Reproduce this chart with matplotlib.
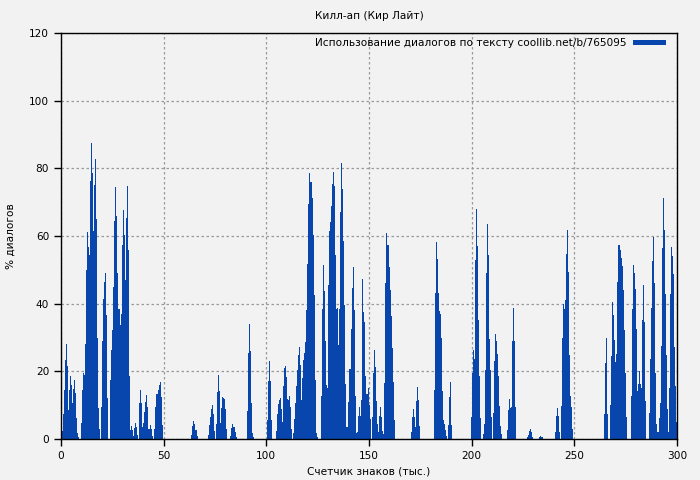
import matplotlib
matplotlib.use("Agg")
import matplotlib.pyplot as plt
from matplotlib.patches import Patch

# Data: clusters of bars (start of cluster in thousand chars, values at 0.5 step)
STEP = 0.5
seg_a = (0.5,  [2.4, 7.4, 14.5, 23.3, 28, 21.6, 8.6, 14.5, 18.6, 16, 10.6, 14.8, 17.4, 13.6, 6.2, 1.8, 0.6])
seg_b = (9.5,  [4.7, 14.5, 19.5, 18.9, 28, 50, 61.2, 56.7, 54.4, 76.3, 87.5, 78.6, 61.5, 75, 82.8, 65, 29.9, 9.2, 3])
seg_c = (19.5, [9.5, 29, 41.4, 46.4, 49, 36.7, 12.1])
seg_d = (24.0, [17.4, 26.3, 32.2, 44.9, 64.4, 74.5, 65.9, 49, 38.4, 33.7, 36.9, 57.3, 67.7, 60.3, 47, 65.3,
                74.8, 55.9, 18.6, 2.7, 3.8, 2.7, 0.9, 3.3, 4.7, 3.5, 1.2])
seg_e = (38.0, [10.6, 14.5, 10.6, 3.5, 4.7, 8, 10.9, 13, 9.5, 3, 3, 4.1, 3, 0.9])
seg_f = (45.5, [3, 9.5, 13.3, 14.5, 16, 16.8, 12.4, 4.1])
seg_g = (63.5, [1.1, 3.7, 5.2, 4.3, 2.6, 0.8])
seg_h = (71.5, [1.1, 4, 6.4, 8.8, 10, 7.3, 2.3])
seg_i = (75.5, [4.3, 13.8, 18.8, 14.1, 4.6, 9.1, 12.3, 12, 11.7, 8.8, 2.9])
seg_j = (82.5, [0.8, 3.2, 4.3, 3.4, 2, 0.5])
seg_k = (90.5, [8.2, 25.3, 33.9, 25.9, 10.5, 1.7, 0.5])
seg_l = (100.5, [5.6, 17.1, 23, 17.1, 5.6])
seg_m = (104.5, [2.4, 7.4, 10.3, 11.5, 12.1, 8.9, 5, 15.7, 21, 21.6, 18.3, 11.8, 11.5, 12.7, 9.5, 3])
seg_n = (113.0, [1.8, 5.9, 10.6, 15.7, 20.4, 24.8, 27.2, 21.9, 11.5, 18, 23.3, 25.4, 28.7, 38.1, 51.7,
                 69.5, 78.6, 76, 71.2, 60.3, 42.6, 17.4, 1.8, 0.6])
seg_o = (126.5, [12.7, 38.4, 51.4, 43.7, 29, 16, 15.1, 45.5, 61.5, 64.1, 68.9, 75.4, 78.9, 74.8, 54.4,
                 38.4, 38.7, 27.8, 38.4, 67.1, 81.6, 73.9, 58.5, 39.6, 16.3, 3.5, 3.5, 10.9, 20.7, 32.5,
                 44.6, 50.8, 38.1, 12.7, 1.8, 2, 6.8, 9.5, 6.8, 11.5, 47.3, 37.5, 34.6, 18.6, 13.3, 13.3,
                 15.1, 10, 5.9])
seg_p = (151.5, [6.5, 19.5, 26.3, 21.3, 11.2, 4.4, 2, 6.8, 9.5, 6.5, 2.4, 1.5, 16.6, 46.1, 60.9, 57.3,
                 50.8, 44.1, 36.4, 26.9, 16.8, 5.6])
seg_q = (170.5, [2, 6.5, 8.9, 6.5, 3.5, 11.2, 15.4, 11.5, 3.8])
seg_r = (181.5, [14.5, 43.2, 58.2, 53.2, 43.2, 37.8, 36.9, 29.9, 14.2, 5.6, 4.4, 2.7, 0.9])
seg_s = (188.5, [4.1, 12.4, 16.8, 4.1])
seg_t = (199.5, [6.5, 19.5, 26.3, 23.6, 52.9, 67.9, 57.1, 35.3, 18.6, 6.2])
seg_u = (205.5, [1.5, 4.4, 20.4, 49.1, 63.5, 54.4, 29.6, 20.4, 6.5])
seg_v = (210.5, [7.7, 23, 31, 28.9, 25.1, 18.6, 9.7, 3.8, 1.5])
seg_w = (217.0, [2.6, 8.5, 11.7, 9.1, 9.4, 28.9, 38.6, 28.9, 9.4])
seg_x = (227.0, [0.5, 1.1, 2.3, 2.9, 2, 0.5])
seg_y = (233.0, [0.5, 0.8, 0.5])
seg_z = (240.5, [2, 6.7, 9.1, 6.7, 2])
seg_aa = (243.5, [9.7, 29.8, 39.8, 38.3, 41, 54.6, 61.7, 49.3, 24.7, 12.6, 9.4, 2.9])
seg_ab = (264.5, [7.3, 22.4, 30, 7.3])
seg_ac = (267.5, [10, 24.4, 40.4, 36.6, 29.2, 22.7, 25, 46.3, 57.2, 55.8, 53.4, 51, 43.9, 32.1, 19.4, 6.4])
seg_ad = (277.5, [12.6, 38.3, 51.3, 49, 44.2, 32.4, 14.1, 16.2, 20, 16.2, 15, 35.1, 45.4, 34.5, 11.1])
seg_ae = (286.5, [7.6, 23.5, 38.6, 52.5, 59.6, 46, 19.4, 4.3, 2, 6.1, 10.5, 27.4, 56.4, 71.1, 61.7, 42.8,
                  24.7, 8.8, 2, 15, 42.8, 56.7, 54, 48.7, 27.1, 15.6, 4.9])

segments = [seg_a, seg_b, seg_c, seg_d, seg_e, seg_f, seg_g, seg_h, seg_i, seg_j, seg_k, seg_l, seg_m,
            seg_n, seg_o, seg_p, seg_q, seg_r, seg_s, seg_t, seg_u, seg_v, seg_w, seg_x, seg_y, seg_z,
            seg_aa, seg_ab, seg_ac, seg_ad, seg_ae]

title = "Килл-ап (Кир Лайт)"
xlabel = "Счетчик знаков (тыс.)"
ylabel = "% диалогов"
legend_label = "Использование диалогов по тексту coollib.net/b/765095"
xticks = [0, 50, 100, 150, 200, 250, 300]
yticks = [0, 20, 40, 60, 80, 100, 120]

xs, hs = [], []
for start, vals in segments:
    for i, v in enumerate(vals):
        xs.append(start + STEP * i)
        hs.append(v)

BLUE = "#0846ad"
BG = "#f2f2f2"
FS = 7.6

fig = plt.figure(figsize=(7, 4.8), dpi=100, facecolor=BG)
ax = fig.add_axes([61 / 700, 41 / 480, 616 / 700, 406 / 480], facecolor=BG)

ax.bar(xs, hs, width=STEP, align="edge", color=BLUE, linewidth=0, antialiased=False, zorder=2)

ax.set_xlim(0, 300)
ax.set_ylim(0, 120)
ax.set_xticks(xticks)
ax.set_yticks(yticks)
ax.tick_params(labelsize=FS, length=5, width=1, direction="out")
ax.grid(True, color="#999999", linestyle=(0, (2, 2)), linewidth=0.9, zorder=1)
for s in ax.spines.values():
    s.set_linewidth(1)
    s.set_color("black")

ax.set_title(title, fontsize=FS, pad=10)
ax.set_xlabel(xlabel, fontsize=FS, labelpad=4)
ax.set_ylabel(ylabel, fontsize=FS, labelpad=10)

handle = Patch(facecolor=BLUE, edgecolor="none")
ax.legend([handle], [legend_label], loc="upper right", frameon=False, markerfirst=False,
          fontsize=FS, handlelength=3.1, handleheight=0.45, borderaxespad=0.3, handletextpad=0.65,
          bbox_to_anchor=(1 - 4 / 616, 1 + 2 / 406))

fig.savefig("out.png", dpi=100, facecolor=BG)
